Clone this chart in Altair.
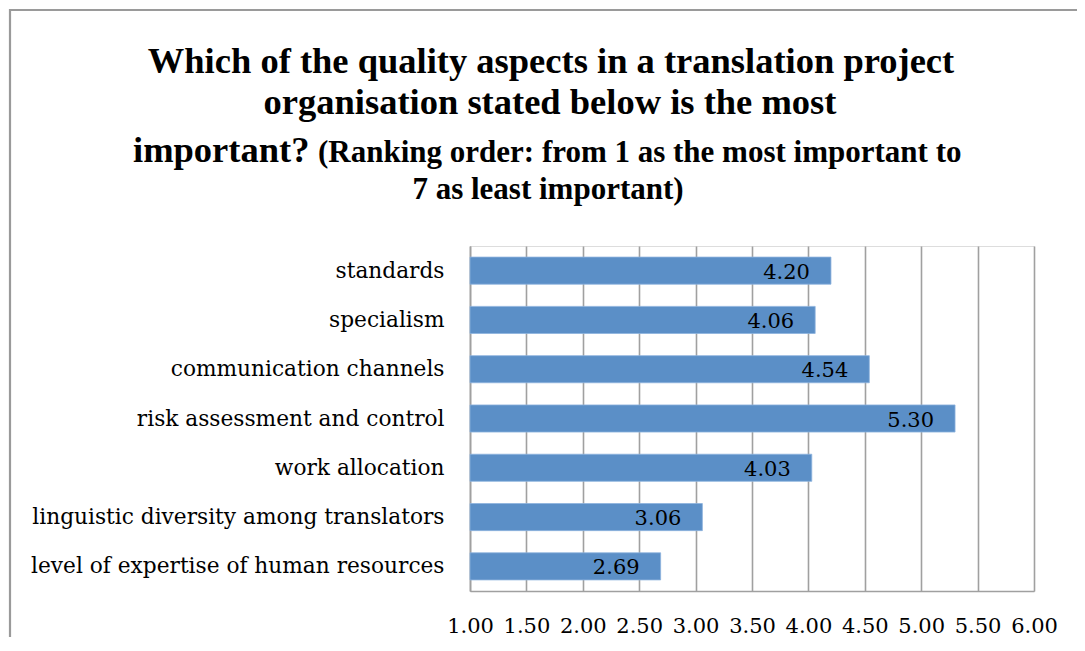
import altair as alt
import pandas as pd

categories = [
    "standards",
    "specialism",
    "communication channels",
    "risk assessment and control",
    "work allocation",
    "linguistic diversity among translators",
    "level of expertise of human resources",
]
values = [4.20, 4.06, 4.54, 5.30, 4.03, 3.06, 2.69]
tick_values = [1.0, 1.5, 2.0, 2.5, 3.0, 3.5, 4.0, 4.5, 5.0, 5.5, 6.0]

title_line1 = "Which of the quality aspects in a translation project"
title_line2 = "organisation stated below is the most"
title_line3a = "important?"
title_line3b = "(Ranking order: from 1 as the most important to"
title_line4 = "7 as least important)"

df = pd.DataFrame({"aspect": categories, "value": values})

BAR = "#5b8fc7"
GRID = "#a0a0a0"
SERIF = "DejaVu Serif"
TITLE_FONT = "Liberation Serif"

x_scale = alt.Scale(domain=[1, 6], nice=False, zero=False)
y_scale = alt.Scale(paddingInner=0.45, paddingOuter=0.225)

x_axis = alt.Axis(
    values=tick_values, format=".2f", grid=True, gridColor=GRID, gridWidth=1.6,
    domainColor=GRID, domainWidth=1.6, ticks=False, labelPadding=24,
    labelOverlap=False, labelFlush=False, labelBound=False,
    labelFont=SERIF, labelFontSize=21, labelColor="black", title=None,
)
y_axis = alt.Axis(
    ticks=False, domainColor=GRID, domainWidth=1.6, labelPadding=26,
    labelFont=SERIF, labelFontSize=21.7, labelColor="black", labelLimit=0,
    title=None,
)

base = alt.Chart(df)

bars = base.mark_bar(color=BAR, stroke="#8db3dd", strokeWidth=0.8).encode(
    y=alt.Y("aspect:N", sort=categories, scale=y_scale, axis=y_axis),
    x=alt.X("value:Q", scale=x_scale, axis=x_axis),
    x2=alt.datum(1.0),
)

labels = base.mark_text(
    align="right", baseline="middle", dx=-21, dy=2,
    font=SERIF, fontSize=21, color="black",
).encode(
    y=alt.Y("aspect:N", sort=categories, scale=y_scale),
    x=alt.X("value:Q", scale=x_scale),
    text=alt.Text("value:Q", format=".2f"),
)


def title_text(txt, x, y, size, align="center"):
    return alt.Chart(pd.DataFrame({"t": [txt]})).mark_text(
        font=TITLE_FONT, fontWeight="bold", fontSize=size, color="black",
        align=align, baseline="alphabetic",
    ).encode(text="t:N", x=alt.value(x), y=alt.value(y))


t1 = title_text(title_line1, 81, -173, 36.5)
t2 = title_text(title_line2, 80, -132, 36.5)
t3a = title_text(title_line3a, -337, -84, 36.5, align="left")
t3b = title_text(title_line3b, -152, -84, 31, align="left")
t4 = title_text(title_line4, 78, -47, 31)

border = alt.Chart(pd.DataFrame({"b": [0]})).mark_rect(
    fillOpacity=0, stroke="#9a9a9a", strokeWidth=2.2,
).encode(
    x=alt.value(-460), x2=alt.value(700), y=alt.value(-236), y2=alt.value(500)
)

chart = alt.layer(border, bars, labels, t1, t2, t3a, t3b, t4).properties(
    width=564, height=345,
    autosize=alt.AutoSizeParams(type="none"),
    padding={"left": 462, "top": 238, "right": 43, "bottom": 46},
).configure_view(stroke=None).configure(background="white")

chart.save("out.html", embed_options={"renderer": "svg", "actions": False})
